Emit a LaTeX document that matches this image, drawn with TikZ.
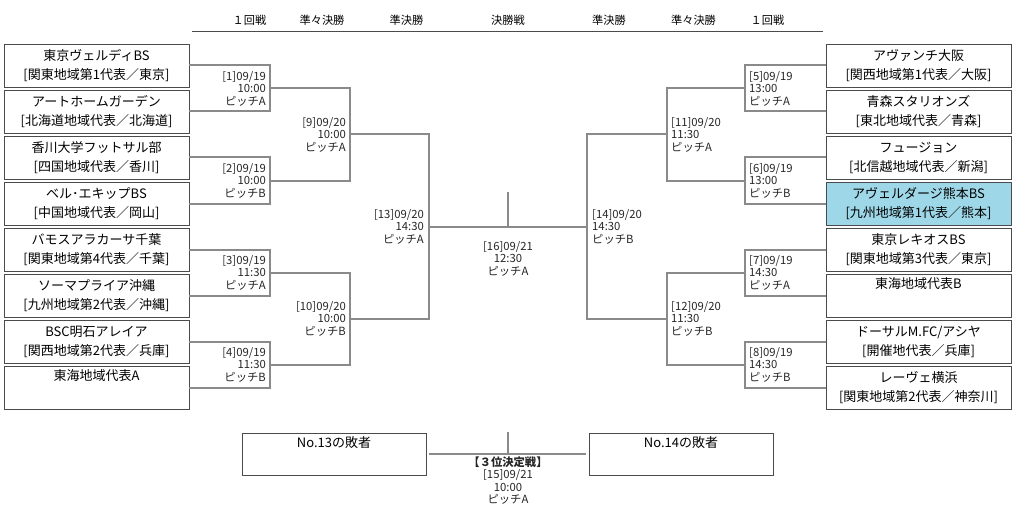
\documentclass[tikz,border=0pt]{standalone}
\usepackage{fontspec}
\setmainfont{Noto Sans CJK JP}
\definecolor{linegray}{RGB}{138,138,138}
\definecolor{boxgray}{RGB}{75,75,75}
\definecolor{seedblue}{RGB}{158,216,232}
\newcommand\teamtext[2]{#1\\\relax #2}
\begin{document}
\begin{tikzpicture}[x=1pt,y=-1pt,
        team/.style={draw=boxgray,line width=0.9pt,minimum width=185pt,minimum height=43pt,
          inner sep=0pt,align=center,font=\fontsize{13}{19}\selectfont},
        roundname/.style={font=\fontsize{11.2}{13}\selectfont},
        game/.style={font=\fontsize{11.3}{12.5}\selectfont,text=black!85,inner sep=1pt},
        bracket/.style={draw=linegray,line width=2pt}]
      \useasboundingbox (0,0) rectangle (1024,513);
      % round names
      \node[roundname] (h1) at (249.5,20) {１回戦};
      \node[roundname] (h2) at (322,20) {準々決勝};
      \node[roundname] (h3) at (406.5,20) {準決勝};
      \node[roundname] (h4) at (508,20) {決勝戦};
      \node[roundname] (h5) at (609,20) {準決勝};
      \node[roundname] (h6) at (693.5,20) {準々決勝};
      \node[roundname] (h7) at (767.5,20) {１回戦};
      \coordinate (hl) at (192,31);
      \coordinate (hr) at (823,31);
      \draw[boxgray,line width=0.8pt] (hl) -- (hr);
      % left teams
      \node[team] (L1) at (96.5,65.5)  {\teamtext{東京ヴェルディBS}{[関東地域第1代表／東京]}};
      \node[team] (L2) at (96.5,111.5) {\teamtext{アートホームガーデン}{[北海道地域代表／北海道]}};
      \node[team] (L3) at (96.5,157.5) {\teamtext{香川大学フットサル部}{[四国地域代表／香川]}};
      \node[team] (L4) at (96.5,203.5) {\teamtext{ベル･エキップBS}{[中国地域代表／岡山]}};
      \node[team] (L5) at (96.5,249.5) {\teamtext{バモスアラカーサ千葉}{[関東地域第4代表／千葉]}};
      \node[team] (L6) at (96.5,295.5) {\teamtext{ソーマプライア沖縄}{[九州地域第2代表／沖縄]}};
      \node[team] (L7) at (96.5,341.5) {\teamtext{BSC明石アレイア}{[関西地域第2代表／兵庫]}};
      \node[team] (L8) at (96.5,387.5) {\teamtext{東海地域代表A}{\strut}};
      % right teams
      \node[team] (R1) at (918.5,65.5)  {\teamtext{アヴァンチ大阪}{[関西地域第1代表／大阪]}};
      \node[team] (R2) at (918.5,111.5) {\teamtext{青森スタリオンズ}{[東北地域代表／青森]}};
      \node[team] (R3) at (918.5,157.5) {\teamtext{フュージョン}{[北信越地域代表／新潟]}};
      \node[team,fill=seedblue] (R4) at (918.5,203.5) {\teamtext{アヴェルダージ熊本BS}{[九州地域第1代表／熊本]}};
      \node[team] (R5) at (918.5,249.5) {\teamtext{東京レキオスBS}{[関東地域第3代表／東京]}};
      \node[team] (R6) at (918.5,295.5) {\teamtext{東海地域代表B}{\strut}};
      \node[team] (R7) at (918.5,341.5) {\teamtext{ドーサルM.FC/アシヤ}{[開催地代表／兵庫]}};
      \node[team] (R8) at (918.5,387.5) {\teamtext{レーヴェ横浜}{[関東地域第2代表／神奈川]}};
      % match points
      \coordinate (a1) at (270,88.5);
      \coordinate (a2) at (270,180.5);
      \coordinate (a3) at (270,272.5);
      \coordinate (a4) at (270,364.5);
      \coordinate (a9) at (350,134.5);
      \coordinate (a10) at (350,318.5);
      \coordinate (a13) at (429,226.5);
      \coordinate (a14) at (587,226.5);
      \coordinate (a11) at (667,134.5);
      \coordinate (a12) at (667,318.5);
      \coordinate (a5) at (745,88.5);
      \coordinate (a6) at (745,180.5);
      \coordinate (a7) at (745,272.5);
      \coordinate (a8) at (745,364.5);
      \coordinate (fin) at (508,192);
      % brackets
      \draw[bracket] (L1.east) -| (a1) |- (L2.east);
      \draw[bracket] (L3.east) -| (a2) |- (L4.east);
      \draw[bracket] (L5.east) -| (a3) |- (L6.east);
      \draw[bracket] (L7.east) -| (a4) |- (L8.east);
      \draw[bracket] (a1) -| (a9) |- (a2);
      \draw[bracket] (a3) -| (a10) |- (a4);
      \draw[bracket] (a9) -| (a13) |- (a10);
      \draw[bracket] (R1.west) -| (a5) |- (R2.west);
      \draw[bracket] (R3.west) -| (a6) |- (R4.west);
      \draw[bracket] (R5.west) -| (a7) |- (R6.west);
      \draw[bracket] (R7.west) -| (a8) |- (R8.west);
      \draw[bracket] (a5) -| (a11) |- (a6);
      \draw[bracket] (a7) -| (a12) |- (a8);
      \draw[bracket] (a11) -| (a14) |- (a12);
      \draw[bracket] (a13) -- (a14);
      \draw[bracket] (fin) -- (fin |- a13);
      % match labels
      \node[game,anchor=east,align=right] (g1) at ([xshift=-3pt]a1) {[1]09/19\\10:00\\ピッチA};
      \node[game,anchor=east,align=right] (g2) at ([xshift=-3pt]a2) {[2]09/19\\10:00\\ピッチB};
      \node[game,anchor=east,align=right] (g3) at ([xshift=-3pt]a3) {[3]09/19\\11:30\\ピッチA};
      \node[game,anchor=east,align=right] (g4) at ([xshift=-3pt]a4) {[4]09/19\\11:30\\ピッチB};
      \node[game,anchor=east,align=right] (g9) at ([xshift=-3pt]a9) {[9]09/20\\10:00\\ピッチA};
      \node[game,anchor=east,align=right] (g10) at ([xshift=-3pt]a10) {[10]09/20\\10:00\\ピッチB};
      \node[game,anchor=east,align=right] (g13) at ([xshift=-4pt]a13) {[13]09/20\\14:30\\ピッチA};
      \node[game,anchor=west,align=left] (g14) at ([xshift=4pt]a14) {[14]09/20\\14:30\\ピッチB};
      \node[game,anchor=west,align=left] (g11) at ([xshift=3pt]a11) {[11]09/20\\11:30\\ピッチA};
      \node[game,anchor=west,align=left] (g12) at ([xshift=3pt]a12) {[12]09/20\\11:30\\ピッチB};
      \node[game,anchor=west,align=left] (g5) at ([xshift=3pt]a5) {[5]09/19\\13:00\\ピッチA};
      \node[game,anchor=west,align=left] (g6) at ([xshift=3pt]a6) {[6]09/19\\13:00\\ピッチB};
      \node[game,anchor=west,align=left] (g7) at ([xshift=3pt]a7) {[7]09/19\\14:30\\ピッチA};
      \node[game,anchor=west,align=left] (g8) at ([xshift=3pt]a8) {[8]09/19\\14:30\\ピッチB};
      \node[game,anchor=north,align=center] (g16) at (508,240) {[16]09/21\\12:30\\ピッチA};
      % third place
      \node[team,minimum width=184pt,minimum height=42pt] (T13) at (334,454) {\teamtext{No.13の敗者}{\strut}};
      \node[team,minimum width=184pt,minimum height=42pt] (T14) at (681,454) {\teamtext{No.14の敗者}{\strut}};
      \coordinate (thr) at (508,432);
      \draw[bracket] ([xshift=3pt]T13.east) -- ([xshift=-3pt]T14.west);
      \draw[bracket] (thr) -- (thr |- T13.east);
      \node[game,anchor=north,align=center] (g15) at (508,455.5) {\textbf{【３位決定戦】}\\{}[15]09/21\\10:00\\ピッチA};
\end{tikzpicture}
\end{document}
